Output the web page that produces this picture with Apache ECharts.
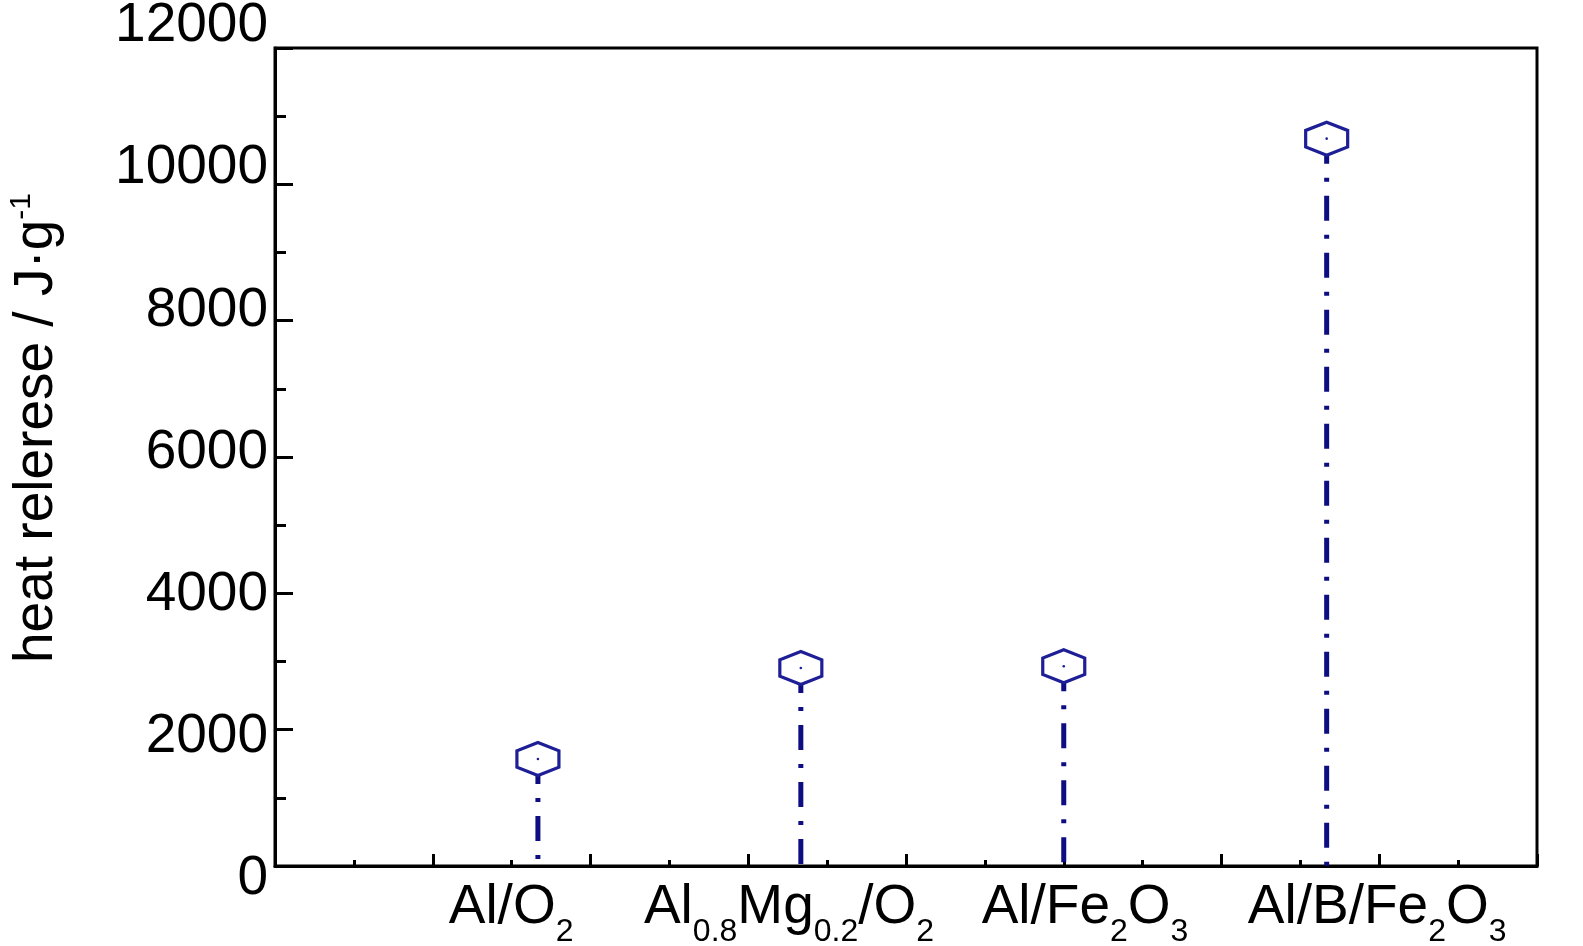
<!DOCTYPE html>
<html>
<head>
<meta charset="utf-8">
<script src="https://cdn.jsdelivr.net/npm/echarts@6/dist/echarts.min.js"></script>
<style>
html,body{margin:0;padding:0;background:#fff;}
#chart{width:1583px;height:946px;}
</style>
</head>
<body>
<div id="chart"></div>
<script>
// ---- data ----
const categories = ['Al/O{s|2}', 'Al{s|0.8}Mg{s|0.2}/O{s|2}', 'Al/Fe{s|2}O{s|3}', 'Al/B/Fe{s|2}O{s|3}'];
const xPositions = [1, 2, 3, 4];
const heatRelease = [1570, 2905, 2930, 10670];
const yTickLabels = [0, 2000, 4000, 6000, 8000, 10000, 12000];
const yTitle = 'heat relerese / J·g';
const yTitleSup = '-1';

// ---- layout (not data) ----
const labelShift = [-0.102, -0.045, 0.081, 0.192];
const labelValues = xPositions.map((v, i) => +(v + labelShift[i]).toFixed(3));
const FONT = "'Liberation Sans', Arial, sans-serif";
const FS = 55;

const chart = echarts.init(document.getElementById('chart'));
const seriesData = xPositions.map((x, i) => [x, heatRelease[i]]);

const option = {
  backgroundColor: '#fff',
  animation: false,
  grid: [
    { left: 275, top: 48, width: 1262, height: 818, show: true, borderColor: '#000', borderWidth: 3, backgroundColor: 'transparent', containLabel: false, outerBoundsMode: 'none' },
    { left: 275, top: 26, width: 1262, height: 853, show: false, containLabel: false, outerBoundsMode: 'none' }
  ],
  xAxis: [
    {
      type: 'value', gridIndex: 0, min: 0, max: 4.8, interval: 0.6, position: 'bottom',
      axisLine: { show: true, lineStyle: { color: '#000', width: 3 } },
      axisTick: { show: true, inside: true, length: 12, lineStyle: { color: '#000', width: 3 } },
      minorTick: { show: true, splitNumber: 2, length: 6, lineStyle: { color: '#000', width: 3 } },
      axisLabel: { show: false },
      splitLine: { show: false }
    },
    {
      type: 'value', gridIndex: 0, min: 0, max: 4.8, position: 'bottom', offset: 0,
      axisLine: { show: false }, axisTick: { show: false }, splitLine: { show: false },
      axisLabel: {
        show: true, customValues: labelValues, margin: 2,
        fontFamily: FONT, fontSize: FS, color: '#000', lineHeight: 80,
        formatter: function (v) {
          let best = 0, d = Infinity;
          labelValues.forEach((lv, i) => { const dd = Math.abs(lv - v); if (dd < d) { d = dd; best = i; } });
          return categories[best];
        },
        rich: { s: { fontFamily: FONT, fontSize: 32, lineHeight: 6, verticalAlign: 'bottom', color: '#000' } }
      }
    },
    {
      type: 'value', gridIndex: 1, min: 0, max: 1, show: false
    }
  ],
  yAxis: [
    {
      type: 'value', gridIndex: 0, min: 0, max: 12000, interval: 2000,
      axisLine: { show: true, lineStyle: { color: '#000', width: 3 } },
      axisTick: { show: true, inside: true, length: 18, lineStyle: { color: '#000', width: 3 } },
      minorTick: { show: true, splitNumber: 2, length: 11, lineStyle: { color: '#000', width: 3 } },
      axisLabel: { show: false },
      splitLine: { show: false }
    },
    {
      type: 'value', gridIndex: 1, min: yTickLabels[0], max: yTickLabels[yTickLabels.length - 1], interval: 2000,
      axisLine: { show: false }, axisTick: { show: false }, splitLine: { show: false },
      axisLabel: { show: true, margin: 7, fontFamily: FONT, fontSize: FS, color: '#000',
        formatter: v => String(v) }
    }
  ],
  graphic: [
    {
      type: 'text', x: 37, y: 428, rotation: Math.PI / 2,
      style: {
        text: '{a|' + yTitle + '}{b|' + yTitleSup + '}',
        textAlign: 'center', textVerticalAlign: 'middle',
        fill: '#000',
        rich: {
          a: { fontFamily: FONT, fontSize: FS, lineHeight: 60, verticalAlign: 'middle', fill: '#000' },
          b: { fontFamily: FONT, fontSize: 30, lineHeight: 26, verticalAlign: 'top', fill: '#000' }
        }
      }
    }
  ],
  series: [
    {
      type: 'custom', xAxisIndex: 0, yAxisIndex: 0,
      data: seriesData,
      encode: { x: 0, y: 1 },
      renderItem: function (params, api) {
        const x = api.value(0), y = api.value(1);
        const p = api.coord([x, y]);
        const p0 = api.coord([x, 0]);
        const w = 21, h = 16.5;
        return {
          type: 'group',
          children: [
            {
              type: 'line',
              shape: { x1: p[0], y1: p[1], x2: p0[0], y2: p0[1] },
              style: { stroke: '#0e0e82', lineWidth: 5, lineDash: [25, 14, 4, 14], lineCap: 'butt' }
            },
            {
              type: 'polygon',
              shape: { points: [[p[0], p[1] - h], [p[0] + w, p[1] - h / 2], [p[0] + w, p[1] + h / 2], [p[0], p[1] + h], [p[0] - w, p[1] + h / 2], [p[0] - w, p[1] - h / 2]] },
              style: { fill: '#fff', stroke: '#1e1e96', lineWidth: 3.2, lineJoin: 'miter' }
            },
            {
              type: 'circle',
              shape: { cx: p[0], cy: p[1], r: 1.3 },
              style: { fill: '#1e1e96' }
            }
          ]
        };
      }
    }
  ]
};
chart.setOption(option);
</script>
</body>
</html>
